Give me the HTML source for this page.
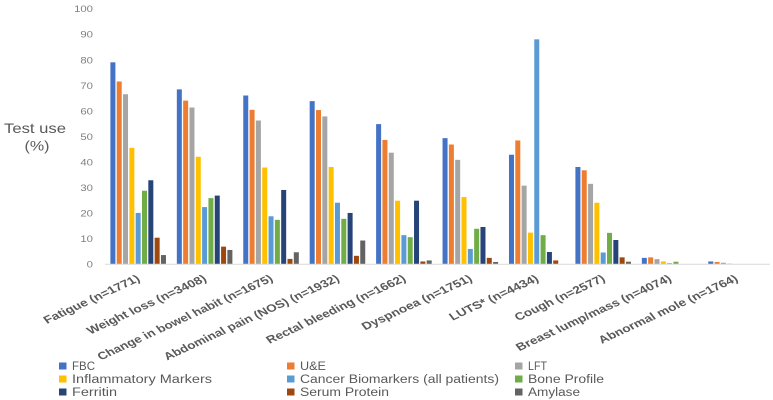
<!DOCTYPE html>
<html lang="en">
<head>
<meta charset="utf-8">
<title>Test use by symptom</title>
<style>
html,body{margin:0;padding:0;background:#fff;}
svg{display:block;font-family:"Liberation Sans",sans-serif;}
#plot,#labels,#legend,#y-ticks,#y-title{filter:blur(0.3px);}
</style>
</head>
<body>
<svg id="chart" width="773" height="400" viewBox="0 0 773 400" xmlns="http://www.w3.org/2000/svg">
  <g id="y-ticks"></g>
  <g id="y-title" fill="#595959" font-size="14">
    <text x="35" y="133" text-anchor="middle" textLength="62" lengthAdjust="spacingAndGlyphs">Test use</text>
    <text x="37" y="150.5" text-anchor="middle" textLength="25" lengthAdjust="spacingAndGlyphs">(%)</text>
  </g>
  <g id="plot"></g>
  <line x1="105" y1="264.3" x2="770" y2="264.3" stroke="#d9d9d9" stroke-width="1"/>
  <g id="labels"></g>
  <g id="legend"></g>
</svg>
<script>
const categories = ["Fatigue (n=1771)","Weight loss (n=3408)","Change in bowel habit (n=1675)","Abdominal pain (NOS) (n=1932)","Rectal bleeding (n=1662)","Dyspnoea (n=1751)","LUTS* (n=4434)","Cough (n=2577)","Breast lump/mass (n=4074)","Abnormal mole (n=1764)"];
const seriesNames = ["FBC","U&E","LFT","Inflammatory Markers","Cancer Biomarkers (all patients)","Bone Profile","Ferritin","Serum Protein","Amylase"];
const seriesColors = ["#4472c4","#ed7d31","#a5a5a5","#ffc000","#5b9bd5","#70ad47","#264478","#9e480e","#636363"];
const fbc = [79,68.4,66,63.8,54.8,49.3,42.8,38,2.4,1];
const uAndE = [71.5,64,60.4,60.3,48.6,46.8,48.4,36.7,2.6,0.8];
const lft = [66.5,61.3,56.2,57.8,43.6,40.8,30.7,31.4,1.9,0.5];
const inflammatory = [45.5,42,37.8,38,24.8,26.2,12.3,24,1,0.2];
const cancerBiomarkers = [20,22.3,18.7,24,11.3,5.9,88,4.5,0.3,0];
const boneProfile = [28.7,25.8,17.3,17.7,10.5,13.8,11.3,12.2,0.9,0];
const ferritin = [32.8,26.8,29,20,24.8,14.5,4.7,9.4,0,0];
const serumProtein = [10.3,6.8,2,3.2,1,2.4,1.4,2.6,0,0];
const amylase = [3.5,5.5,4.6,9.2,1.4,0.8,0,0.9,0,0];
const seriesValues = [fbc,uAndE,lft,inflammatory,cancerBiomarkers,boneProfile,ferritin,serumProtein,amylase];
const yTicks = [0,10,20,30,40,50,60,70,80,90,100];

const NS = "http://www.w3.org/2000/svg";
function make(tag, attrs, parent){
  const el = document.createElementNS(NS, tag);
  for (const k in attrs) el.setAttribute(k, attrs[k]);
  parent.appendChild(el);
  return el;
}
function yScale(v){ return 264 - v * 2.553; }
function groupX(i){ return 110.4 + i * 66.43; }
function barX(i, s){ return groupX(i) + s * 6.32; }

const yGroup = document.getElementById("y-ticks");
yTicks.forEach(function(t){
  const el = make("text", {x:93, y:yScale(t)+3.5, "text-anchor":"end", fill:"#7f7f7f", "font-size":"9.5", textLength:String(t).length*6.3, lengthAdjust:"spacingAndGlyphs"}, yGroup);
  
  
  el.textContent = t;
});

const plot = document.getElementById("plot");
seriesValues.forEach(function(vals, s){
  vals.forEach(function(v, i){
    if (v <= 0) return;
    const el = make("rect", {x:barX(i,s), y:yScale(v), width:5, height:yScale(0)-yScale(v), fill:seriesColors[s]}, plot);
    
    
  });
});

const labelSpans = [94,117,173,173,137,108,87,88,153,137];
const labels = document.getElementById("labels");
categories.forEach(function(c, i){
  const ex = 141 + i * 66.43, ey = 280.5;
  const el = make("text", {transform:"translate("+ex+" "+ey+") scale(1.3 1) rotate(-31)", "text-anchor":"end", fill:"#595959", "font-size":"10.6", "font-weight":"bold", textLength:labelSpans[i]/1.114, lengthAdjust:"spacingAndGlyphs"}, labels);
  
  
  el.textContent = c;
});

const legendX = [59,287,515];
const legendY = [366,379,392];
const legendWidths = [23,26,19,140,199,76,45,89,52];
const legend = document.getElementById("legend");
seriesNames.forEach(function(n, s){
  const col = s % 3, row = Math.floor(s / 3);
  const g = make("g", {}, legend);
  
  
  const sw = make("rect", {x:legendX[col], y:legendY[row]-3.5, width:7.5, height:7, fill:seriesColors[s]}, g);
  
  
  const t = make("text", {x:legendX[col]+13, y:legendY[row]+4.2, fill:"#595959", "font-size":"11.5", textLength:legendWidths[s], lengthAdjust:"spacingAndGlyphs"}, g);
  
  
  t.textContent = n;
});
</script>
</body>
</html>
